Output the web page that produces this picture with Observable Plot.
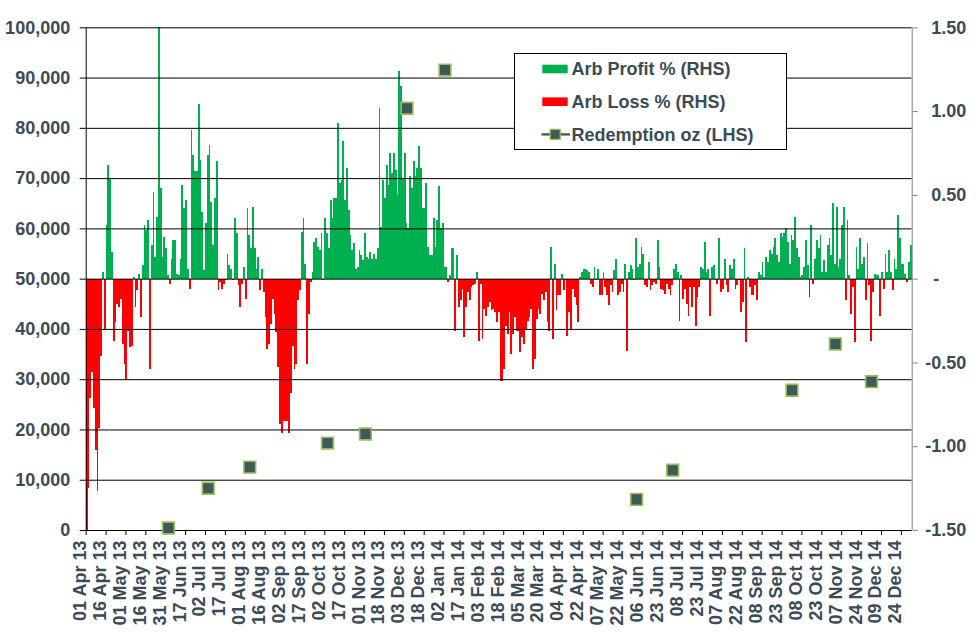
<!DOCTYPE html>
<html><head><meta charset="utf-8">
<script src="https://cdn.jsdelivr.net/npm/d3@7"></script>
<script src="https://cdn.jsdelivr.net/npm/@observablehq/plot@0.6"></script>
<style>
html,body{margin:0;padding:0;background:#fff;}
#chart{width:977px;height:639px;}
</style></head><body><div id="chart"></div>
<script>
// Daily arbitrage profit/loss % (RHS), trading days 01 Apr 13 .. 31 Dec 13
const arb2013 = [
-1.50,-1.25,-0.71,-0.56,-0.77,-1.02,-1.27,-0.89,-0.46,0.04,
-0.30,0.32,0.68,0.60,0.16,-0.37,-0.26,-0.15,-0.17,-0.12,
-0.39,-0.51,-0.60,-0.31,-0.41,-0.40,0.01,-0.17,-0.07,0.03,
-0.23,0.08,0.32,0.29,0.35,-0.54,0.20,0.52,0.13,0.37,
1.50,0.54,0.13,0.25,0.18,0.02,-0.03,0.12,0.23,0.23,
0.03,0.02,0.12,0.56,0.42,0.47,0.06,-0.06,0.89,0.74,
0.64,0.64,1.04,0.71,0.40,0.05,0.33,0.74,0.80,0.46,
0.20,0.48,0.70,-0.07,-0.02,-0.06,-0.03,-0.01,0.15,0.08,
0.06,-0.01,0.36,0.27,-0.04,-0.17,-0.03,0.07,-0.12,0.42,
0.26,0.18,0.43,0.18,0.06,0.13,-0.07,0.06,-0.08,-0.23,
-0.42,-0.39,-0.27,-0.12,-0.21,-0.32,-0.53,-0.87,-0.92,-0.85,
-0.85,-0.85,-0.92,-0.68,-0.40,-0.54,-0.51,-0.13,-0.07,0.28,
0.36,0.09,-0.51,-0.21,-0.02,0.04,0.22,0.24,0.19,0.17,
0.27,-0.01,0.36,0.27,0.18,0.47,0.36,0.48,0.48,0.93,
0.57,0.59,0.82,0.47,0.66,0.41,0.26,0.17,0.21,0.06,
0.07,0.17,0.14,0.11,0.27,0.13,0.12,
0.16,0.12,0.15,0.12,0.18,1.02,0.31,0.59,0.48,0.68,
0.56,0.75,0.63,0.75,0.65,0.50,1.24,1.15,0.60,0.75,
0.33,0.30,0.61,0.54,0.70,0.61,0.66,0.79,0.66,0.42,
0.42,0.57,0.19,0.14,0.14,0.36,0.19,0.35,0.55,0.30,
0.33
];
// trading days 02 Jan 14 .. 31 Dec 14
const arb2014 = [
0.07,0.07,-0.02,0.02,0.18,0.18,-0.31,0.14,-0.17,
-0.13,-0.06,-0.35,-0.17,-0.08,-0.13,-0.05,-0.04,-0.03,0.04,
-0.37,-0.03,-0.36,-0.18,-0.22,-0.17,-0.14,-0.19,-0.18,-0.20,
-0.26,-0.20,-0.61,-0.61,-0.54,-0.28,-0.33,-0.20,-0.45,-0.33,
-0.23,-0.31,-0.31,-0.44,
-0.35,-0.39,-0.30,-0.25,-0.23,-0.18,-0.54,-0.48,-0.24,-0.18,
-0.21,-0.09,-0.13,-0.08,-0.26,-0.31,0.19,-0.36,0.09,-0.19,
-0.10,-0.10,0.03,-0.07,-0.01,-0.34,-0.20,-0.30,-0.06,-0.11,
-0.16,-0.26,0.01,0.04,0.06,0.06,0.05,0.04,-0.03,-0.05,
0.07,-0.01,0.06,-0.10,-0.10,0.04,-0.05,-0.10,-0.16,-0.04,
-0.08,0.05,0.12,-0.10,-0.08,-0.03,-0.08,0.09,-0.43,0.04,
0.08,0.06,-0.01,0.24,0.07,0.09,0.19,0.15,-0.04,-0.05,
0.10,-0.07,-0.04,-0.02,-0.03,0.23,0.07,
-0.06,-0.07,-0.09,-0.03,-0.06,-0.10,-0.04,0.06,0.09,0.04,
-0.25,0.02,-0.12,-0.06,-0.15,-0.22,-0.05,-0.17,-0.05,-0.28,
-0.11,-0.05,0.07,0.06,0.22,0.04,0.06,-0.22,0.07,0.08,
-0.01,-0.03,0.24,-0.08,-0.06,0.12,-0.04,-0.08,0.08,0.06,
0.12,-0.06,-0.04,-0.01,-0.20,-0.14,0.18,-0.38,0.01,-0.05,
-0.10,-0.10,-0.04,-0.13,0.04,0.02,0.10,0.01,0.13,0.10,
0.17,0.15,0.19,0.24,0.14,0.10,0.27,0.25,0.27,0.30,
0.22,0.09,0.26,0.23,0.37,0.18,0.13,0.01,0.02,0.07,
0.23,0.08,-0.11,
0.32,-0.03,0.12,0.23,0.18,0.26,0.04,0.11,0.04,0.20,
0.24,0.14,0.45,0.09,0.43,0.07,0.12,0.32,0.43,-0.13,
0.35,0.02,-0.21,-0.05,-0.38,0.19,0.06,0.24,0.09,0.13,
-0.13,0.21,-0.04,-0.37,-0.08,0.03,0.02,0.02,-0.22,0.04,
-0.06,0.15,0.04,0.17,0.04,-0.07,0.12,0.06,0.38,0.24,
0.09,0.09,0.03,-0.02,0.10,0.20
];
// category-axis labels, one every 11 trading days
const tickLabels = ["01 Apr 13","16 Apr 13","01 May 13","16 May 13","31 May 13","17 Jun 13","02 Jul 13","17 Jul 13","01 Aug 13","16 Aug 13","02 Sep 13","17 Sep 13","02 Oct 13","17 Oct 13","01 Nov 13","18 Nov 13","03 Dec 13","18 Dec 13","02 Jan 14","17 Jan 14","03 Feb 14","18 Feb 14","05 Mar 14","20 Mar 14","04 Apr 14","22 Apr 14","07 May 14","22 May 14","06 Jun 14","23 Jun 14","08 Jul 14","23 Jul 14","07 Aug 14","22 Aug 14","08 Sep 14","23 Sep 14","08 Oct 14","23 Oct 14","07 Nov 14","24 Nov 14","09 Dec 14","24 Dec 14"];
const tickEvery = 11;
// Redemption oz (LHS): trading-day index and ounces
const redemptionDay = [45, 67, 90, 133, 154, 177, 198, 304, 324, 390, 414, 434];
const redemptionOz  = [500, 8400, 12600, 17400, 19200, 84000, 91600, 6200, 12000, 27900, 37100, 29600];
const leftTicks = [0,10000,20000,30000,40000,50000,60000,70000,80000,90000,100000];
const rightTicks = [-1.5,-1,-0.5,0,0.5,1,1.5];

const GREEN = "#00b050", RED = "#ff0000", TEXT = "#3a4b57";
const MARK_FILL = "#3d5a5b", MARK_STROKE = "#9bbb59";
const FONT = "'Liberation Sans', Arial, sans-serif";

const arb = arb2013.concat(arb2014);
const N = arb.length;
const bars = arb.map((v, i) => ({i, v}));
const toR = oz => (oz - 50000) / 100000 * 3;
const fromR = r => r / 3 * 100000 + 50000;
const redemption = redemptionDay.map((day, k) => ({day, oz: redemptionOz[k]}));
const labelData = tickLabels.map((t, k) => ({t, i: k * tickEvery}));
const fmtR = d => (d < 0 ? "-" : "") + Math.abs(d).toFixed(2);

const chart = Plot.plot({
  width: 977, height: 639,
  marginLeft: 85.7, marginRight: 65.3, marginTop: 27.3, marginBottom: 109,
  x: {domain: [-0.5, N - 0.5], axis: null},
  y: {domain: [-1.5, 1.5], axis: null},
  style: {fontFamily: FONT, background: "white", overflow: "visible"},
  marks: [
    Plot.rect(bars, {x1: d => d.i - 0.5, x2: d => d.i + 0.5, y1: () => 0, y2: "v",
      fill: d => d.v >= 0 ? GREEN : RED, inset: 0, shapeRendering: "crispEdges"}),
    Plot.ruleY(leftTicks.map(toR), {stroke: "black", strokeWidth: 1}),
    Plot.ruleX([-0.5], {stroke: "black", strokeWidth: 1}),
    Plot.ruleX([N - 0.5], {stroke: "#808080", strokeWidth: 1}),
    Plot.axisY(leftTicks.map(toR), {anchor: "left", tickSize: 6, tickPadding: 10,
      tickFormat: d => d3.format(",")(Math.round(fromR(d))), label: null,
      fontSize: 18, fontWeight: "bold", fill: TEXT, stroke: "black"}),
    Plot.axisY(rightTicks, {anchor: "right", tickSize: 5, tickFormat: () => "", label: null, stroke: "#808080"}),
    Plot.text(rightTicks.filter(d => d !== 0), {y: d => d, frameAnchor: "right", dx: 54, textAnchor: "end",
      text: fmtR, fontSize: 18, fontWeight: "bold", fill: TEXT}),
    Plot.text(rightTicks.filter(d => d === 0), {y: d => d, frameAnchor: "right", dx: 21, textAnchor: "start",
      text: () => "-", fontSize: 18, fontWeight: "bold", fill: TEXT}),
    Plot.axisX(labelData.map(d => d.i - 0.5), {anchor: "bottom", tickSize: 5, tickFormat: () => "", label: null, stroke: "black"}),
    Plot.text(labelData, {x: d => d.i - 0.5, frameAnchor: "bottom", rotate: -90, textAnchor: "end", dy: 10,
      text: "t", fontSize: 18, fontWeight: "bold", fill: TEXT}),
    Plot.dot(redemption, {x: "day", y: d => toR(d.oz), symbol: "square", r: 6.6,
      fill: MARK_FILL, stroke: MARK_STROKE, strokeWidth: 1.6})
  ]
});
document.getElementById("chart").appendChild(chart);

// Legend box inside the plot area
const svg = d3.select(chart);
const lg = svg.append("g").attr("font-family", FONT).attr("font-size", 18)
  .attr("font-weight", "bold").attr("text-anchor", "start");
lg.append("rect").attr("x", 514.5).attr("y", 53.5).attr("width", 272).attr("height", 96)
  .attr("fill", "white").attr("stroke", "black").attr("stroke-width", 1);
const items = [
  {label: "Arb Profit % (RHS)", type: "bar", color: GREEN},
  {label: "Arb Loss % (RHS)", type: "bar", color: RED},
  {label: "Redemption oz (LHS)", type: "marker"}
];
items.forEach((it, k) => {
  const cy = 69 + k * 32.7;
  if (it.type === "bar") {
    lg.append("rect").attr("x", 542.3).attr("y", cy - 4.3).attr("width", 25.4).attr("height", 8.6).attr("fill", it.color);
  } else {
    lg.append("line").attr("x1", 541.5).attr("x2", 570).attr("y1", cy).attr("y2", cy)
      .attr("stroke", MARK_FILL).attr("stroke-width", 2.3);
    lg.append("rect").attr("x", 550.2).attr("y", cy - 5).attr("width", 10).attr("height", 10)
      .attr("fill", MARK_FILL).attr("stroke", MARK_STROKE).attr("stroke-width", 1.3);
  }
  lg.append("text").attr("x", 571.5).attr("y", cy + 6.4).attr("fill", TEXT).attr("text-anchor", "start").text(it.label);
});
</script></body></html>
